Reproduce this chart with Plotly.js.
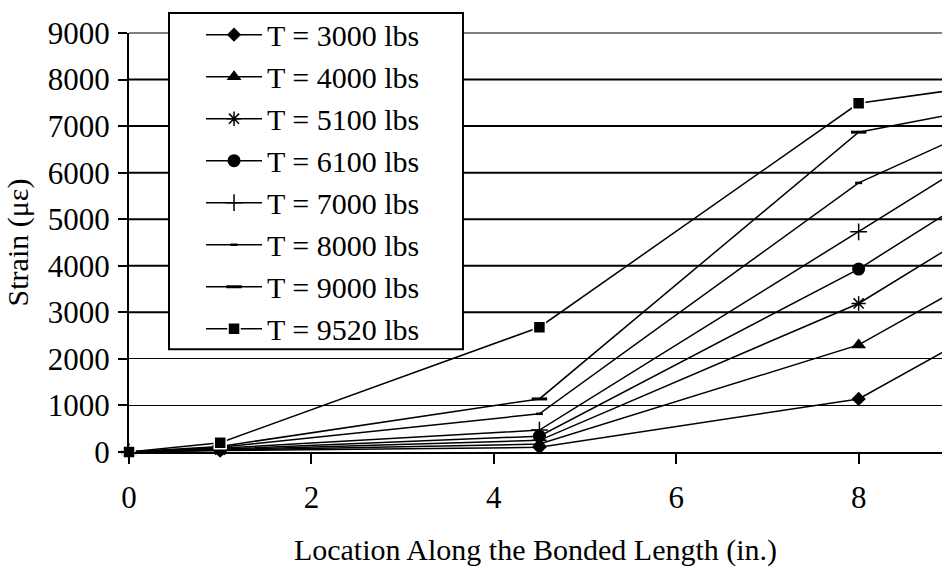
<!DOCTYPE html>
<html>
<head>
<meta charset="utf-8">
<script src="https://cdn.plot.ly/plotly-3.0.1.min.js"></script>
<style>
  html, body { margin: 0; padding: 0; background: #fff; }
  #chart { width: 942px; height: 567px; }
</style>
</head>
<body>
<div id="chart"></div>
<script>
// Gauge locations along the bonded length (in.)
const locations = [0, 1, 4.5, 8, 11.5];

// Measured strain (microstrain) at each gauge, one array per load level
const strain3000 = [0, 30, 100, 1140, 4950];
const strain4000 = [0, 40, 170, 2300, 6150];
const strain5100 = [0, 50, 250, 3190, 7400];
const strain6100 = [0, 60, 340, 3930, 8270];
const strain7000 = [0, 80, 470, 4730, 9000];
const strain8000 = [0, 100, 820, 5780, 8900];
const strain9000 = [0, 120, 1140, 6870, 8170];
const strain9520 = [0, 200, 2680, 7490, 8450];

const seriesNames = [
  'T = 3000 lbs', 'T = 4000 lbs', 'T = 5100 lbs', 'T = 6100 lbs',
  'T = 7000 lbs', 'T = 8000 lbs', 'T = 9000 lbs', 'T = 9520 lbs'
];
const seriesValues = [
  strain3000, strain4000, strain5100, strain6100,
  strain7000, strain8000, strain9000, strain9520
];

const yTicks = [0, 1000, 2000, 3000, 4000, 5000, 6000, 7000, 8000, 9000];
const xTicks = [0, 2, 4, 6, 8];

// Marker style per load level
const markerStyles = [
  { symbol: 'diamond', size: 11, color: '#000' },
  { symbol: 'triangle-up', size: 13, color: '#000' },
  { symbol: 'asterisk-open', size: 12, color: '#000', line: { color: '#000', width: 1.5 } },
  { symbol: 'circle', size: 13, color: '#000' },
  { symbol: 'cross-thin-open', size: 12, color: '#000', line: { color: '#000', width: 1.5 } },
  { symbol: 'line-ew-open', size: 5, color: '#000', line: { color: '#000', width: 2.5 } },
  { symbol: 'line-ew-open', size: 11, color: '#000', line: { color: '#000', width: 3 } },
  { symbol: 'square', size: 12, color: '#000', line: { color: '#fff', width: 1.5 } }
];

const FONT = 'Liberation Serif';

const traces = seriesNames.map((name, i) => ({
  type: 'scatter',
  mode: 'lines+markers',
  name: name,
  x: locations,
  y: seriesValues[i],
  line: { color: '#000', width: 1.5 },
  marker: markerStyles[i],
  cliponaxis: false
}));

// Heavier rules for the upper grid levels
const heavyRules = yTicks.filter(v => v >= 3000 && v <= 8000).map(v => ({
  type: 'line', xref: 'paper', yref: 'y', x0: 0, x1: 1, y0: v, y1: v,
  line: { color: '#000', width: 2 }, layer: 'below'
}));

const layout = {
  width: 942,
  height: 567,
  margin: { l: 129, r: 0, t: 33, b: 115, pad: 0 },
  paper_bgcolor: '#fff',
  plot_bgcolor: '#fff',
  font: { family: FONT, size: 30, color: '#000' },
  showlegend: true,
  legend: {
    x: 0.0886, y: 1.058, xanchor: 'left', yanchor: 'top',
    maxheight: 560,
    itemwidth: 56,
    bgcolor: 'rgba(0,0,0,0)', borderwidth: 0,
    font: { family: FONT, size: 30, color: '#000' },
    tracegroupgap: 0
  },
  xaxis: {
    range: [0, 8.914],
    tickvals: xTicks,
    ticktext: xTicks.map(String),
    showgrid: false,
    zeroline: false,
    showline: true, linecolor: '#000', linewidth: 2,
    ticks: 'outside', ticklen: 10, tickwidth: 2, tickcolor: '#000',
    ticklabelstandoff: 7,
    tickfont: { family: FONT, size: 31, color: '#000' },
    title: { text: 'Location Along the Bonded Length (in.)', standoff: 40,
             font: { family: FONT, size: 30, color: '#000' } }
  },
  yaxis: {
    range: [0, 9000],
    tickvals: yTicks,
    ticktext: yTicks.map(String),
    showgrid: true, gridcolor: '#000', gridwidth: 1,
    zeroline: false,
    showline: true, linecolor: '#000', linewidth: 2,
    ticks: 'outside', ticklen: 9, tickwidth: 2, tickcolor: '#000',
    ticklabelstandoff: 2,
    tickfont: { family: FONT, size: 31, color: '#000' },
    title: { text: 'Strain (με)', standoff: 10,
             font: { family: FONT, size: 30, color: '#000' } }
  },
  shapes: heavyRules.concat([
    // grey rule along the top of the plot area
    { type: 'line', xref: 'paper', yref: 'paper', x0: 0, x1: 1, y0: 1, y1: 1,
      line: { color: '#808080', width: 2 }, layer: 'above' },
    // framed white panel behind the legend entries
    { type: 'rect', xref: 'paper', yref: 'paper',
      x0: 0.0492, x1: 0.4108, y0: 0.2453, y1: 1.0478,
      fillcolor: '#fff', line: { color: '#000', width: 2 }, layer: 'above' }
  ])
};

Plotly.newPlot('chart', traces, layout, { staticPlot: true, displayModeBar: false })
  .then(gd => {
    // lengthen the legend line samples and centre the markers on them
    gd.querySelectorAll('.legend .traces').forEach(item => {
      item.querySelectorAll('.legendlines path').forEach(p => p.setAttribute('d', 'M5,0h56'));
      item.querySelectorAll('.legendpoints path').forEach(p => p.setAttribute('transform', 'translate(33,0)'));
    });
  });
</script>
</body>
</html>
